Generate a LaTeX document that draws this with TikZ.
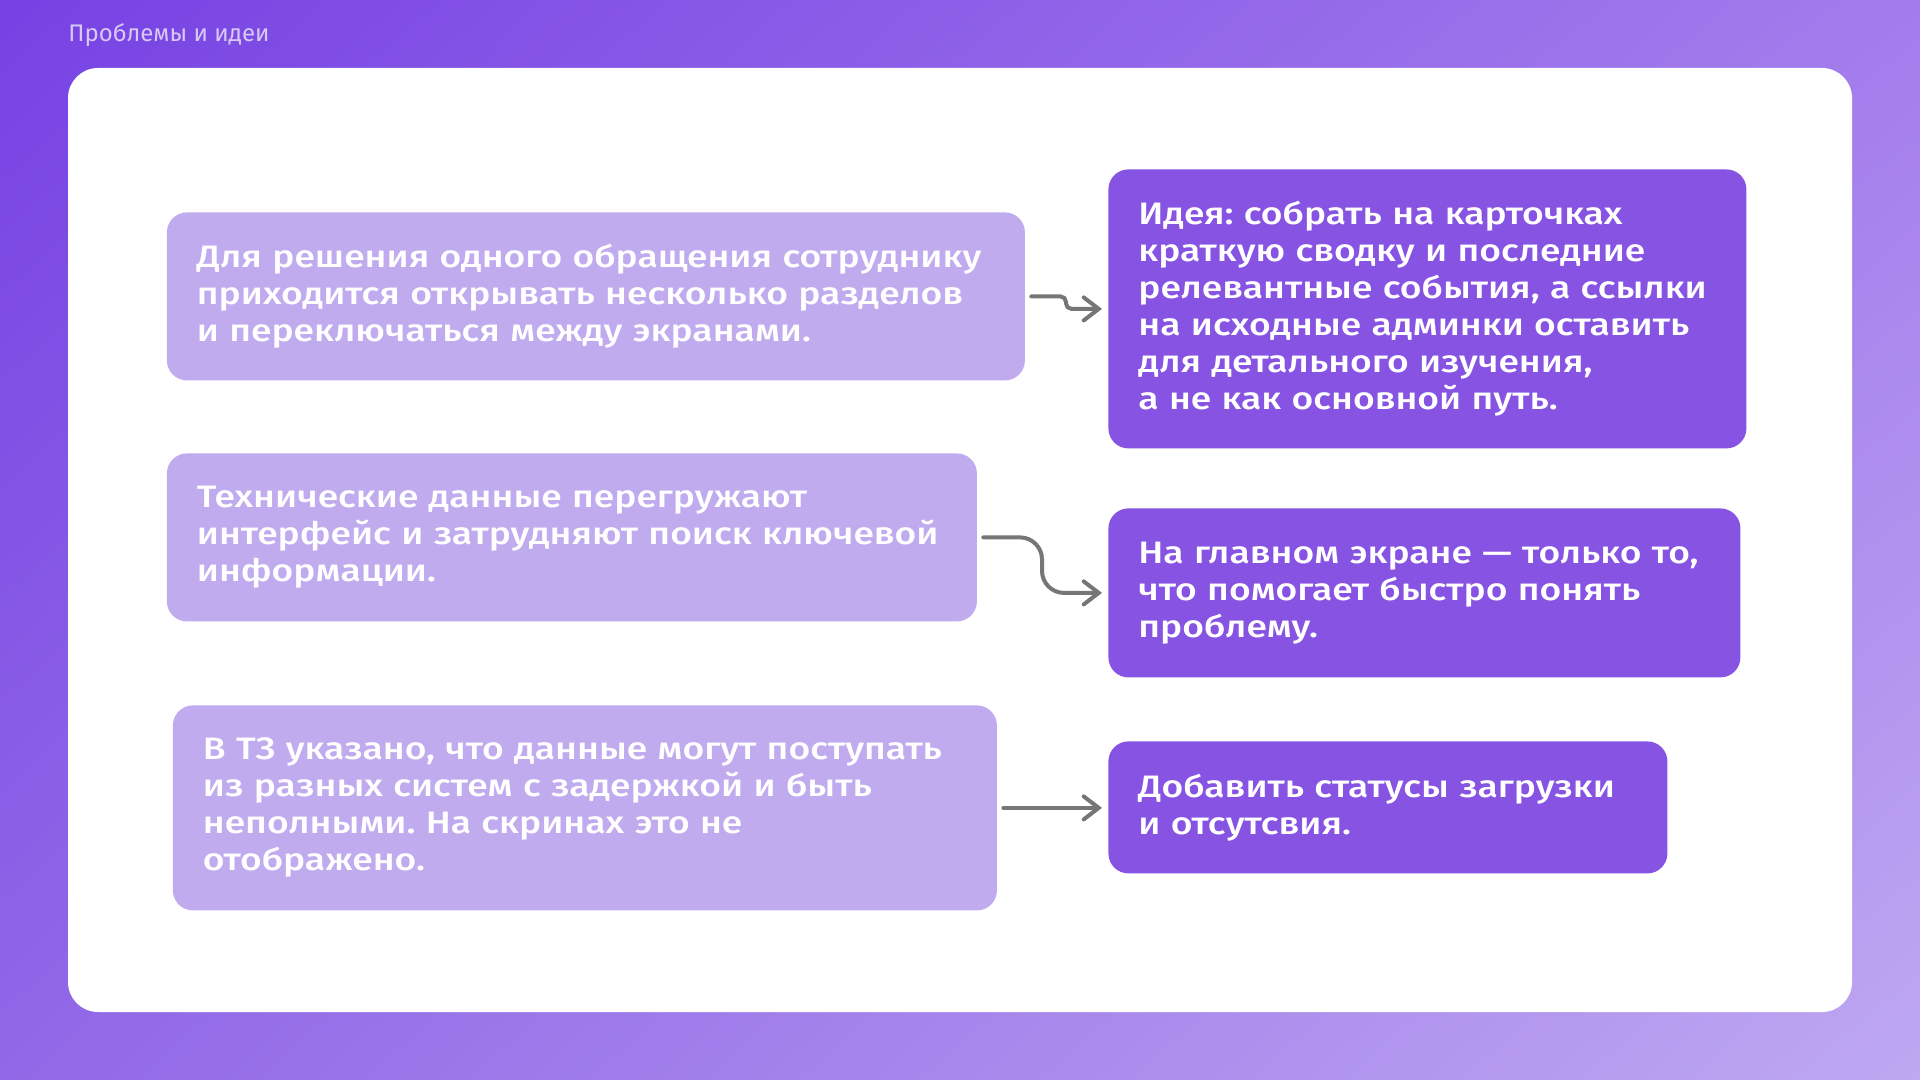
\documentclass[tikz,border=0pt]{standalone}
\usepackage{fontspec}
\setmainfont{Fira Sans}[UprightFont={* Medium},FakeStretch=1.2]
\newfontfamily\titlefont{Fira Sans}
\frenchspacing
\usetikzlibrary{arrows.meta,shadings}
\definecolor{bgTL}{HTML}{7641E3}
\definecolor{bgTR}{HTML}{A37CEC}
\definecolor{bgBL}{HTML}{9168E7}
\definecolor{bgBR}{HTML}{BEA8F1}
\definecolor{probfill}{HTML}{C1ABEF}
\definecolor{ideafill}{HTML}{8753E3}
\definecolor{linkgray}{HTML}{767676}
\definecolor{titlecol}{HTML}{D7C9F6}

\begin{document}
\begin{tikzpicture}[x=.5pt,y=-.5pt,nodes={font=\fontsize{15.5}{18.5}\selectfont,text=white,align=left},
  probbox/.style={fill=probfill,rounded corners=10pt,anchor=north west,inner xsep=15pt,inner ysep=0pt},
  ideabox/.style={probbox,fill=ideafill},
  link/.style={draw=linkgray,line width=2pt,line cap=round,line join=round,rounded corners=#1,
    -{Straight Barb[length=7.5pt,width=11.5pt,line cap=round]},shorten <=3pt,shorten >=3pt}]
% background and white panel
\shade[upper left=bgTL,upper right=bgTR,lower left=bgBL,lower right=bgBR] (0,0) rectangle (1920,1080);
\fill[white,rounded corners=15pt] (68,68) rectangle (1852,1012);
\node[anchor=base west,inner sep=0pt,text=titlecol,font=\titlefont\fontsize{12}{14}\selectfont] (title) at (68,42) {Проблемы и идеи};
% problems (left)
\node[probbox,text width=399pt,minimum height=84pt] (p1) at (166.5,212)
  {Для решения одного обращения сотруднику\\приходится открывать несколько разделов\\и переключаться между экранами.};
\node[probbox,text width=375pt,minimum height=84pt] (p2) at (166.5,453)
  {Технические данные перегружают\\интерфейс и затрудняют поиск ключевой\\информации.};
\node[probbox,text width=382pt,minimum height=102.5pt] (p3) at (172.5,705)
  {В ТЗ указано, что данные могут поступать\\из разных систем с задержкой и быть\\неполными. На скринах это не\\отображено.};
% ideas (right)
\node[ideabox,text width=289pt,minimum height=139.5pt] (r1) at (1108,169)
  {Идея: собрать на карточках\\краткую сводку и последние\\релевантные события, а ссылки\\на исходные админки оставить\\для детального изучения,\\а не как основной путь.};
\node[ideabox,text width=286pt,minimum height=84.5pt] (r2) at (1108,508)
  {На главном экране --- только то,\\что помогает быстро понять\\проблему.};
\node[ideabox,text width=249.5pt,minimum height=66pt] (r3) at (1108,741)
  {Добавить статусы загрузки\\и отсутсвия.};
% arrows
\draw[link=2.75pt] (p1.east) -| ([xshift=-21pt]r1.west) -- (r1.west);
\draw[link=11pt] (p2.east) -| ([xshift=-33pt]r2.west) -- (r2.west);
\draw[link=0pt] (p3.east) -- (p3.east -| r3.west);
\end{tikzpicture}
\end{document}
